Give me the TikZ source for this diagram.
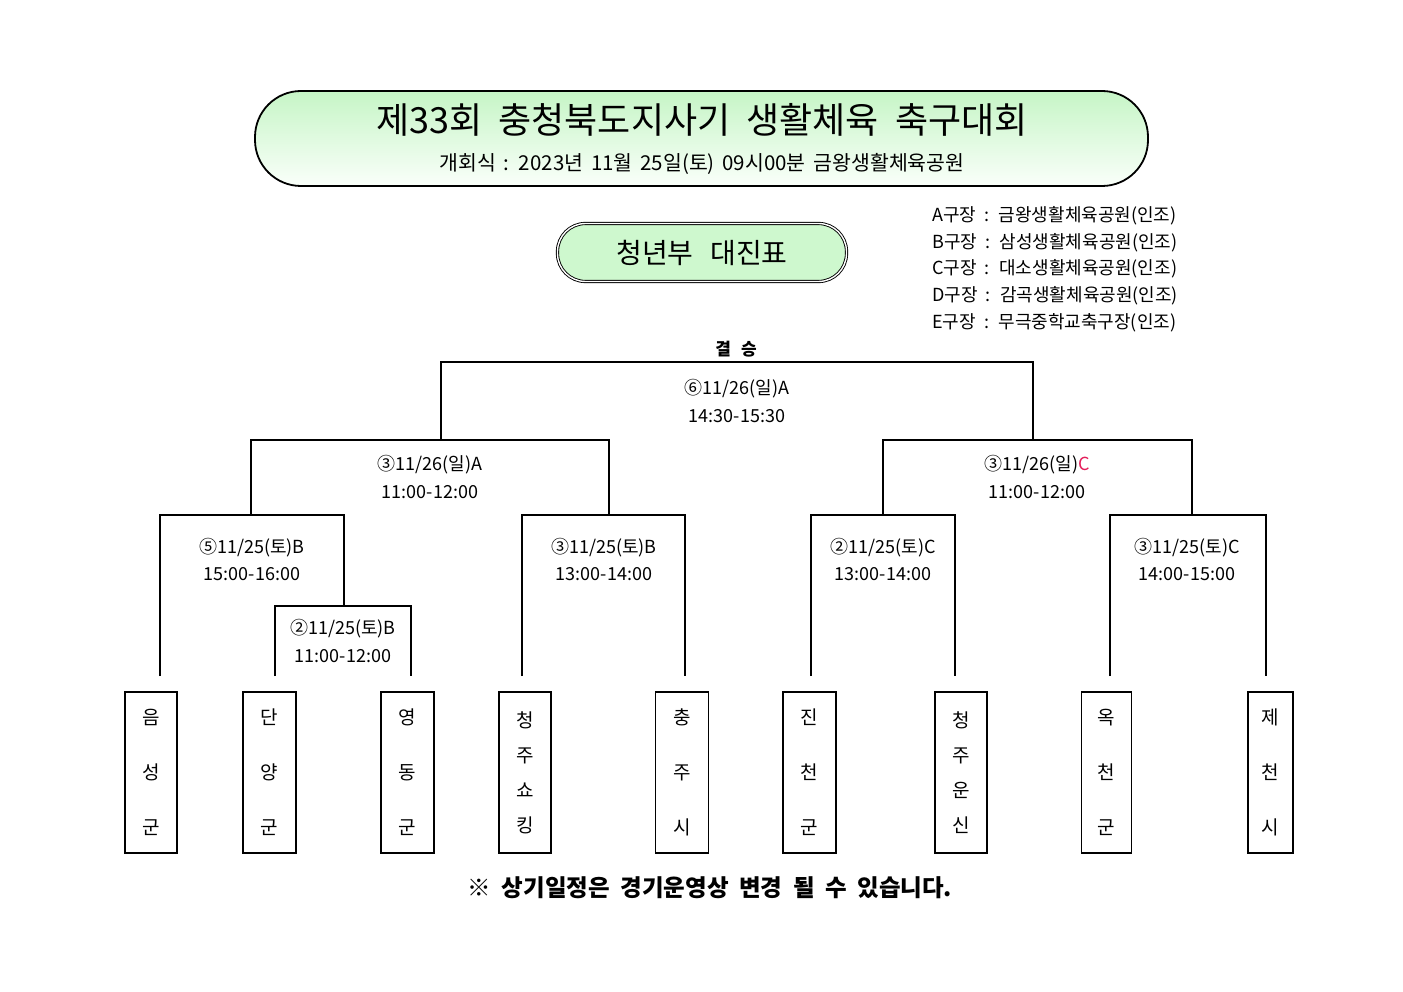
\documentclass[tikz,border=0pt]{standalone}
\usepackage{fontspec}
\setmainfont{Noto Sans CJK KR}
\definecolor{titletop}{RGB}{198,245,198}
\definecolor{titlebot}{RGB}{250,255,250}
\definecolor{pillfill}{RGB}{206,248,206}
\definecolor{venC}{RGB}{228,30,90}
\newcommand\wordgap[1]{\spaceskip #1em\relax}
\tikzset{
  br/.style={draw=black, line width=1.1pt},
  lbl/.style={align=center, inner sep=0pt, font=\fontsize{18}{28}\selectfont},
  team/.style={draw=black, line width=1.1pt, minimum height=161pt, inner sep=0pt, align=center, font=\fontsize{19}{55}\selectfont},
  teamf/.style={team, font=\fontsize{19}{35}\selectfont},
  venue/.style={anchor=west, inner sep=0pt, font={\fontsize{18}{20}\selectfont\wordgap{0.45}}}
}
\begin{document}
\begin{tikzpicture}[x=1pt,y=-1pt]
\useasboundingbox (0,0) rectangle (1403,992);
\fill[white] (0,0) rectangle (1403,992);

% title box
\node[draw=black, line width=1.8pt, rounded corners=46pt, minimum width=893pt, minimum height=95pt,
      top color=titletop, bottom color=titlebot, inner sep=0pt] (tbox) at (701.5,138.5) {};
\node[inner sep=0pt, font={\fontsize{36}{40}\selectfont\wordgap{0.45}}] (ttl) at (702,120) {제33회 충청북도지사기 생활체육 축구대회};
\node[inner sep=0pt, font={\fontsize{20.5}{24}\selectfont\wordgap{0.38}}] (sub) at (702,164) {개회식 : 2023년 11월 25일(토) 09시00분 금왕생활체육공원};

% pill
\node[draw=black, double=white, double distance=1.4pt, line width=0.9pt, rounded corners=28pt,
      fill=pillfill, minimum width=289pt, minimum height=58pt, inner sep=0pt,
      font={\fontsize{28}{30}\selectfont\wordgap{0.6}}] (pill) at (702,252.5) {청년부 대진표};

% venues
\node[venue] (vA) at (932,216) {A구장 : 금왕생활체육공원(인조)};
\node[venue] (vB) at (932,243) {B구장 : 삼성생활체육공원(인조)};
\node[venue] (vC) at (932,269) {C구장 : 대소생활체육공원(인조)};
\node[venue] (vD) at (932,296) {D구장 : 감곡생활체육공원(인조)};
\node[venue] (vE) at (932,323) {E구장 : 무극중학교축구장(인조)};

\node[inner sep=0pt, font={\bfseries\fontsize{17}{20}\selectfont\wordgap{0.6}}] (final) at (736,349) {결 승};

% teams
\node[team, minimum width=52pt] (t1) at (151,772.5) {음\\성\\군};
\node[team, minimum width=53pt] (t2) at (269.5,772.5) {단\\양\\군};
\node[team, minimum width=53pt] (t3) at (407.5,772.5) {영\\동\\군};
\node[teamf, minimum width=52pt] (t4) at (525,772.5) {청\\주\\쇼\\킹};
\node[team, minimum width=53pt] (t5) at (682,772.5) {충\\주\\시};
\node[team, minimum width=53pt] (t6) at (809.5,772.5) {진\\천\\군};
\node[teamf, minimum width=52pt] (t7) at (961,772.5) {청\\주\\운\\신};
\node[team, minimum width=50pt] (t8) at (1106.5,772.5) {옥\\천\\군};
\node[team, minimum width=45pt] (t9) at (1270.5,772.5) {제\\천\\시};

% free ends of bracket lines (above team boxes)
\coordinate (e1) at (160,676);
\coordinate (e2) at (275,676);
\coordinate (e3) at (411,676);
\coordinate (e4) at (522,676);
\coordinate (e5) at (685,676);
\coordinate (e6) at (811,676);
\coordinate (e7) at (955,676);
\coordinate (e8) at (1110,676);
\coordinate (e9) at (1266,676);

% match tops
\coordinate (m6l) at (441,362);  \coordinate (m6r) at (1033,362);
\coordinate (s1l) at (251,440);  \coordinate (s1r) at (609,440);
\coordinate (s2l) at (883,440);  \coordinate (s2r) at (1192,440);
\coordinate (q1l) at (160,515);  \coordinate (q1r) at (344,515);
\coordinate (qbl) at (275,606);  \coordinate (qbr) at (411,606);
\coordinate (q2l) at (522,515);  \coordinate (q2r) at (685,515);
\coordinate (q3l) at (811,515);  \coordinate (q3r) at (955,515);
\coordinate (q4l) at (1110,515); \coordinate (q4r) at (1266,515);

% bracket lines
\draw[br] (m6l|-s1l) -- (m6l) -- (m6r) -- (m6r|-s2l);
\draw[br] (s1l|-q1l) -- (s1l) -- (s1r) -- (s1r|-q2l);
\draw[br] (s2l|-q3l) -- (s2l) -- (s2r) -- (s2r|-q4l);
\draw[br] (e1) -- (q1l) -- (q1r) -- (q1r|-qbl);
\draw[br] (e2) -- (qbl) -- (qbr) -- (e3);
\draw[br] (e4) -- (q2l) -- (q2r) -- (e5);
\draw[br] (e6) -- (q3l) -- (q3r) -- (e7);
\draw[br] (e8) -- (q4l) -- (q4r) -- (e9);

% match labels
\node[lbl] (l6) at (737,401) {⑥11/26(일)A\\14:30-15:30};
\node[lbl] (l5a) at (430,477) {③11/26(일)A\\11:00-12:00};
\node[lbl] (l5b) at (1037,477) {③11/26(일)\textcolor{venC}{C}\\11:00-12:00};
\node[lbl] (l1) at (252,559.5) {⑤11/25(토)B\\15:00-16:00};
\node[lbl] (l0) at (343,641) {②11/25(토)B\\11:00-12:00};
\node[lbl] (l2) at (604,559.5) {③11/25(토)B\\13:00-14:00};
\node[lbl] (l3) at (883,559.5) {②11/25(토)C\\13:00-14:00};
\node[lbl] (l4) at (1187,559.5) {③11/25(토)C\\14:00-15:00};

% footer
\node[inner sep=0pt, font={\bfseries\fontsize{23.5}{26}\selectfont\wordgap{0.45}}] (foot) at (710,888) {※ 상기일정은 경기운영상 변경 될 수 있습니다.};
\end{tikzpicture}
\end{document}
